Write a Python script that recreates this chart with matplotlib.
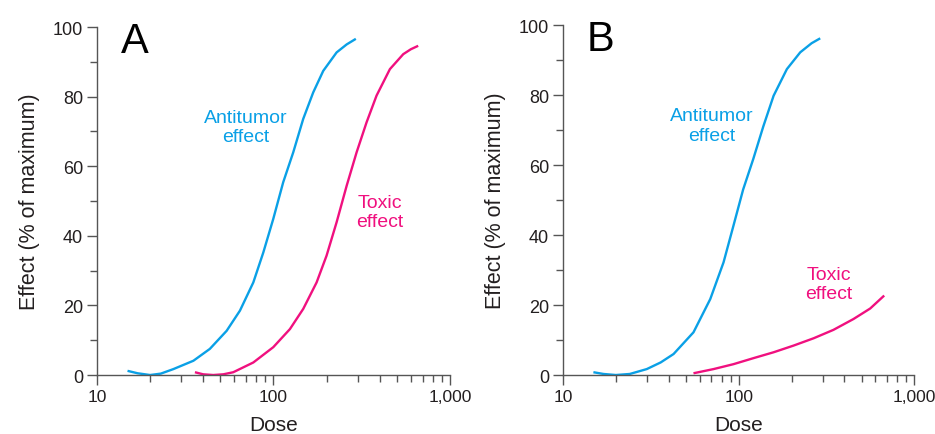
import matplotlib
matplotlib.use('Agg')
import matplotlib.pyplot as plt
from matplotlib.ticker import FixedLocator, LogLocator, NullFormatter

plt.rcParams['font.family'] = ['Liberation Sans', 'DejaVu Sans']

blue = '#0aa0e6'
pink = '#f0107f'
ink = '#231f20'

# antitumor effect, panel A
antiA_dose = [14.9, 17, 20, 23, 27.1, 35.2, 43.6, 54.3, 64.6, 76.9, 87.6, 99.7, 113.6,
              129.5, 147.5, 168, 191.5, 228, 260, 293]
antiA_eff = [1.2, 0.5, 0.0, 0.4, 1.7, 4.1, 7.5, 12.7, 18.5, 26.6, 35.2, 44.8, 55.4,
             64, 73.6, 81.2, 87.4, 92.7, 95.0, 96.6]

# toxic effect, panel A
toxA_dose = [35.9, 40, 45.6, 52, 59.2, 76.9, 99.8, 124, 147.5, 175.6, 200, 228, 260,
             296, 337, 384, 457, 544, 600, 661]
toxA_eff = [0.8, 0.2, 0.0, 0.2, 0.8, 3.6, 8, 13.2, 19, 26.6, 34.3, 43.9, 54.4,
            64, 72.6, 80.3, 87.9, 92.2, 93.6, 94.6]

# antitumor effect, panel B
antiB_dose = [14.9, 17, 20, 24, 30, 36, 42.6, 55.3, 68.9, 82, 93.4, 106, 121, 138,
              158, 188, 224, 260, 291]
antiB_eff = [0.8, 0.3, 0.0, 0.3, 1.7, 3.6, 6, 12.2, 21.7, 32.2, 42.7, 53, 61.7, 71,
             79.8, 87.4, 92.2, 94.8, 96.2]

# toxic effect, panel B
toxB_dose = [55.3, 72, 93.4, 121, 158, 205, 267, 346, 450, 560, 673]
toxB_eff = [0.5, 1.7, 3.1, 4.8, 6.5, 8.4, 10.5, 12.9, 16, 19, 22.7]

fig = plt.figure(figsize=(9.35, 4.35), dpi=100)
axA = fig.add_axes([0.1037, 0.1356, 0.3775, 0.80])
axB = fig.add_axes([0.6021, 0.1356, 0.3759, 0.8046])

panels = [
    (axA, 'A', antiA_dose, antiA_eff, toxA_dose, toxA_eff, (70, 71.3), (400, 46.8)),
    (axB, 'B', antiB_dose, antiB_eff, toxB_dose, toxB_eff, (70, 71.3), (325, 26)),
]

for ax, letter, adose, aeff, tdose, teff, anti_pos, tox_pos in panels:
    ax.plot(adose, aeff, color=blue, lw=1.7, solid_capstyle='butt', solid_joinstyle='round')
    ax.plot(tdose, teff, color=pink, lw=1.7, solid_capstyle='butt', solid_joinstyle='round')
    ax.set_xscale('log')
    ax.set_xlim(10, 1000)
    ax.set_ylim(0, 100)
    ax.spines['top'].set_visible(False)
    ax.spines['right'].set_visible(False)
    for s in ('left', 'bottom'):
        ax.spines[s].set_color('#555555')
        ax.spines[s].set_linewidth(1.0)
    ax.set_xticks([10, 100, 1000])
    ax.set_xticklabels(['10', '100', '1,000'])
    ax.xaxis.set_minor_locator(LogLocator(base=10, subs=range(2, 10)))
    ax.xaxis.set_minor_formatter(NullFormatter())
    ax.set_yticks([0, 20, 40, 60, 80, 100])
    ax.yaxis.set_minor_locator(FixedLocator([10, 30, 50, 70, 90]))
    ax.tick_params(which='major', length=7, width=1.0, color='#555555',
                   labelsize=13, labelcolor=ink, pad=3)
    ax.tick_params(which='minor', length=5, width=1.0, color='#555555')
    ax.tick_params(axis='x', which='major', labelsize=12.5)
    ax.set_xlabel('Dose', fontsize=15, color=ink, labelpad=8)
    ax.set_ylabel('Effect (% of maximum)', fontsize=15.5, color=ink, labelpad=9)
    ax.text(16.4, 96, letter, fontsize=30, color='black', ha='center', va='center')
    ax.text(anti_pos[0], anti_pos[1], 'Antitumor\neffect', color=blue, fontsize=14,
            ha='center', va='center', linespacing=1.2)
    ax.text(tox_pos[0], tox_pos[1], 'Toxic\neffect', color=pink, fontsize=14,
            ha='center', va='center', linespacing=1.2)

fig.savefig('out.png', dpi=100)
